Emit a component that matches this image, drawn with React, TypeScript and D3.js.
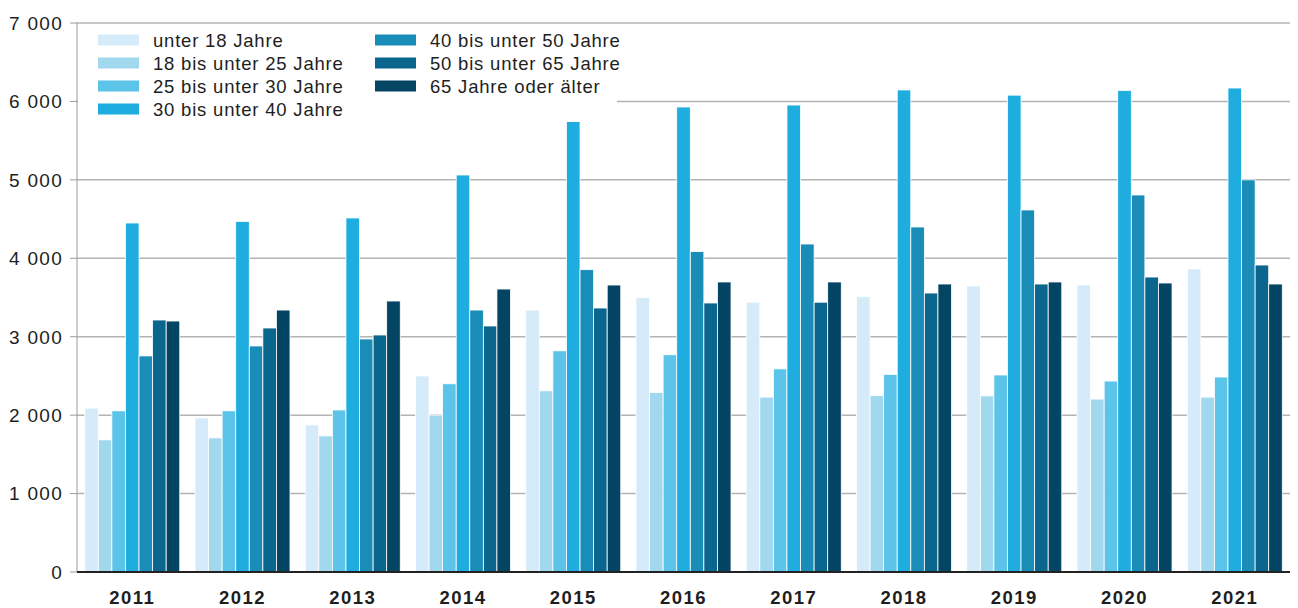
import React from "react";
import * as d3 from "d3";

const years = ["2011", "2012", "2013", "2014", "2015", "2016", "2017", "2018", "2019", "2020", "2021"];

const groupLabels = [
  "unter 18 Jahre",
  "18 bis unter 25 Jahre",
  "25 bis unter 30 Jahre",
  "30 bis unter 40 Jahre",
  "40 bis unter 50 Jahre",
  "50 bis unter 65 Jahre",
  "65 Jahre oder älter",
];

const under18 = [2090, 1965, 1875, 2500, 3340, 3500, 3440, 3510, 3647, 3660, 3865];
const age18to25 = [1685, 1710, 1735, 2000, 2310, 2290, 2230, 2250, 2245, 2205, 2230];
const age25to30 = [2055, 2055, 2066, 2400, 2820, 2770, 2590, 2520, 2512, 2435, 2486];
const age30to40 = [4450, 4470, 4514, 5062, 5790, 5929, 5954, 6146, 6080, 6140, 6171];
const age40to50 = [2755, 2882, 2971, 3340, 3855, 4085, 4182, 4399, 4616, 4807, 5000];
const age50to65 = [3213, 3111, 3022, 3137, 3366, 3430, 3440, 3557, 3672, 3761, 3914];
const age65plus = [3200, 3340, 3455, 3608, 3659, 3698, 3698, 3672, 3698, 3685, 3672];

const yTicks = [0, 1000, 2000, 3000, 4000, 5000, 6000, 7000];

const colors = ["#d6ebfa", "#a1d8ee", "#5bc4e8", "#1fade0", "#198db8", "#0b668d", "#034563"];

const series = [under18, age18to25, age25to30, age30to40, age40to50, age50to65, age65plus];

const W = 1298;
const H = 608;
const left = 77;
const right = 1290;
const top = 23;
const bottom = 572;

const fmt = (v: number) => (v >= 1000 ? `${Math.floor(v / 1000)} ${String(v % 1000).padStart(3, "0")}` : String(v));

export default function App() {
  const x0 = d3.scaleBand<string>().domain(years).range([left, right]).paddingInner(0.138).paddingOuter(0.07);
  const x1 = d3
    .scaleBand<number>()
    .domain(d3.range(groupLabels.length))
    .range([0, x0.bandwidth()]);
  const y = d3.scaleLinear().domain([0, 7000]).range([bottom, top]);

  const font = "'Liberation Sans', Arial, Helvetica, sans-serif";

  return (
    <div style={{ position: "absolute", left: 0, top: 0 }}>
      <svg width={W} height={H} style={{ display: "block", background: "#fff" }} fontFamily={font}>
        {/* gridlines + y ticks */}
        {yTicks.map((t) => (
          <g key={t}>
            {t > 0 && <line x1={left} x2={right} y1={y(t)} y2={y(t)} stroke="#b4b4b4" strokeWidth={1.5} />}
            <line x1={70} x2={left} y1={y(t)} y2={y(t)} stroke="#9a9a9a" strokeWidth={1} />
            <text
              x={63}
              y={y(t)}
              dy="0.36em"
              textAnchor="end"
              fontSize={19}
              letterSpacing={1.3}
              fill="#1e1e1e"
            >
              {fmt(t)}
            </text>
          </g>
        ))}
        <line x1={left} x2={left} y1={top} y2={bottom} stroke="#9a9a9a" strokeWidth={1} />

        {/* bars */}
        {years.map((yr, i) => (
          <g key={yr} transform={`translate(${x0(yr)},0)`}>
            {series.map((s, k) => (
              <rect
                key={k}
                x={x1(k)}
                y={y(s[i])}
                width={x1.bandwidth()}
                height={y(0) - y(s[i])}
                fill={colors[k]}
                stroke="#fff"
                strokeWidth={0.8}
              />
            ))}
            <text
              x={x0.bandwidth() / 2}
              y={598}
              dy="0.35em"
              textAnchor="middle"
              fontSize={18.5}
              fontWeight="bold"
              letterSpacing={1.5}
              fill="#1e1e1e"
            >
              {yr}
            </text>
          </g>
        ))}

        <line x1={left} x2={right} y1={bottom} y2={bottom} stroke="#222" strokeWidth={2} />

        {/* legend */}
        <rect x={left + 1} y={28} width={539} height={94} fill="#fff" />
        {groupLabels.map((g, k) => {
          const col = k < 4 ? 0 : 1;
          const row = k < 4 ? k : k - 4;
          const lx = col === 0 ? 98 : 375;
          const ly = 40 + row * 23;
          return (
            <g key={g}>
              <rect x={lx} y={ly - 5.5} width={41} height={11} fill={colors[k]} />
              <text x={lx + 55} y={ly} dy="0.36em" fontSize={18.5} letterSpacing={0.8} fill="#1e1e1e">
                {g}
              </text>
            </g>
          );
        })}
      </svg>
    </div>
  );
}
